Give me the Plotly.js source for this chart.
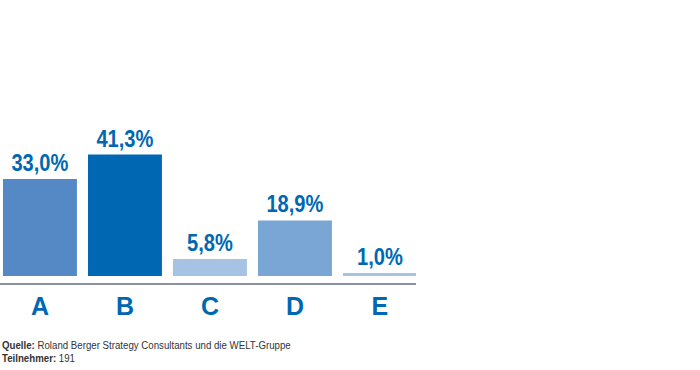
<!DOCTYPE html>
<html>
<head>
<meta charset="utf-8">
<script src="https://cdn.plot.ly/plotly-3.0.1.min.js"></script>
<style>html,body{margin:0;padding:0;background:#fff;}#chart{width:700px;height:370px;}</style>
</head>
<body>
<div id="chart"></div>
<script>
const categories = ["A", "B", "C", "D", "E"];
const values = [33.0, 41.3, 5.8, 18.9, 1.0];
const valueLabels = ["33,0%", "41,3%", "5,8%", "18,9%", "1,0%"];
const barColors = ["#5489c6", "#0068b3", "#a7c3e3", "#79a6d5", "#a7c3e3"];
const sourceText = "<b>Quelle:</b> Roland Berger Strategy Consultants und die WELT-Gruppe";
const participantsText = "<b>Teilnehmer:</b> 191";

const fam = '"Liberation Sans", Arial, sans-serif';
const NARROW = 0.82; // emulate Arial Narrow by horizontal compression

const trace = {
  type: "bar",
  x: categories.map((c, i) => i),
  y: values,
  width: 0.87,
  marker: {color: barColors, line: {width: 0}},
  text: valueLabels,
  textposition: "outside",
  cliponaxis: false,
  textfont: {family: fam, size: 24.5, color: "#0068b3", weight: "bold"},
  hoverinfo: "none"
};

const layout = {
  width: 700, height: 370,
  margin: {l: 0, r: 284, t: 100, b: 87},
  paper_bgcolor: "#fff", plot_bgcolor: "#fff",
  showlegend: false,
  bargap: 0.13,
  xaxis: {
    range: [-0.47, 4.424],
    tickmode: "array",
    tickvals: [0, 1, 2, 3, 4],
    ticktext: categories,
    showgrid: false, zeroline: false,
    showline: true, linecolor: "#8a90a8", linewidth: 2,
    ticks: "",
    tickfont: {family: fam, size: 25, color: "#0068b3", weight: "bold"},
    ticklabelstandoff: 0,
    fixedrange: true
  },
  yaxis: {
    range: [-2.38, 59.86],
    visible: false, showgrid: false, zeroline: false,
    fixedrange: true
  },
  annotations: [
    {xref: "paper", yref: "paper", x: 0, y: 0, xanchor: "left", yanchor: "top",
     xshift: 1, yshift: -55, showarrow: false, align: "left", borderpad: 0,
     text: sourceText, font: {family: fam, size: 11, color: "#333"}},
    {xref: "paper", yref: "paper", x: 0, y: 0, xanchor: "left", yanchor: "top",
     xshift: 1, yshift: -68, showarrow: false, align: "left", borderpad: 0,
     text: participantsText, font: {family: fam, size: 11, color: "#333"}}
  ]
};

function condense(sel, anchor, s) {
  document.querySelectorAll(sel).forEach(t => {
    const bb = t.getBBox();
    const cx = anchor === "start" ? bb.x : bb.x + bb.width / 2;
    const prev = t.getAttribute("transform") || "";
    t.setAttribute("transform", prev + ` translate(${cx},0) scale(${s},1) translate(${-cx},0)`);
  });
}

Plotly.newPlot("chart", [trace], layout, {displayModeBar: false, staticPlot: true}).then(() => {
  condense("#chart text.bartext", "middle", NARROW);
  condense("#chart .annotation-text", "start", 0.88);
});
</script>
</body>
</html>
